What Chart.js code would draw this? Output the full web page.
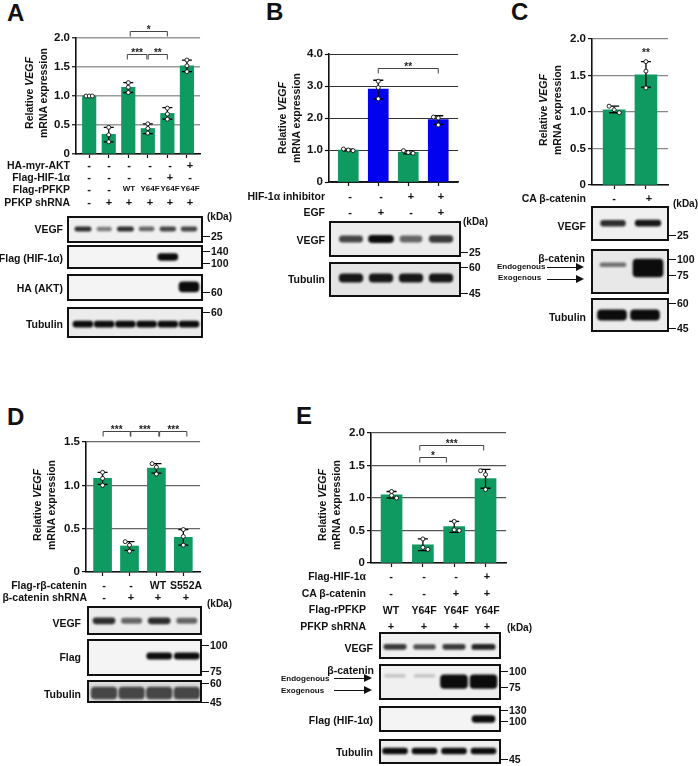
<!DOCTYPE html>
<html>
<head>
<meta charset="utf-8">
<title>VEGF mRNA expression</title>
<script src="https://cdn.jsdelivr.net/npm/chart.js@4"></script>
<style>
	html, body { margin: 0; background: #fff; }
	body { position: relative; width: 698px; height: 766px; overflow: hidden; font-family: "Liberation Sans", Arial, sans-serif; color: #111; }
	canvas { position: absolute; }
	.t { position: absolute; white-space: nowrap; font-weight: bold; line-height: 1; }
	.d { position: absolute; background: #111; }
</style>
</head>
<body>
<script>
// bar values
const aValues = [1.0, 0.34, 1.15, 0.44, 0.7, 1.52];
const bValues = [1.0, 2.9, 0.93, 1.95];
const cValues = [1.03, 1.51];
const dValues = [1.08, 0.3, 1.2, 0.4];
const eValues = [1.05, 0.28, 0.56, 1.3];

// error bars
const aLow = [1.0, 0.21, 1.06, 0.35, 0.6, 1.42];
const aHigh = [1.0, 0.46, 1.23, 0.52, 0.8, 1.62];
const bLow = [0.97, 2.6, 0.88, 1.8];
const bHigh = [1.03, 3.18, 0.98, 2.07];
const cLow = [0.99, 1.34];
const cHigh = [1.08, 1.69];
const dLow = [1.01, 0.25, 1.14, 0.31];
const dHigh = [1.15, 0.35, 1.25, 0.49];
const eLow = [1.0, 0.19, 0.47, 1.15];
const eHigh = [1.1, 0.37, 0.64, 1.44];

// replicate points
const aDots = [[1.0, 1.0, 1.0], [0.46, 0.33, 0.21], [1.23, 1.15, 1.06], [0.52, 0.44, 0.36], [0.79, 0.69, 0.6], [1.62, 1.52, 1.42]];
const bDots = [[1.03, 1.0, 0.98], [3.15, 2.95, 2.6], [0.98, 0.92, 0.9], [2.03, 2.0, 1.78]];
const cDots = [[1.08, 1.03, 0.99], [1.69, 1.56, 1.33]];
const dDots = [[1.15, 1.08, 1.0], [0.35, 0.31, 0.24], [1.25, 1.21, 1.13], [0.49, 0.41, 0.31]];
const eDots = [[1.1, 1.04, 1.0], [0.37, 0.24, 0.21], [0.64, 0.51, 0.5], [1.42, 1.36, 1.13]];

// significance brackets: from, to, value, stars
const aBrackets = [[2.1, 4, 2.12, '*'], [1.95, 2.95, 1.72, '***'], [3.02, 4, 1.72, '**']];
const bBrackets = [[1, 3, 3.56, '**']];
const cBrackets = [[1, 1, 1.8, '**']];
const dBrackets = [[0.02, 1.03, 1.63, '***'], [1.05, 2.09, 1.63, '***'], [2.12, 3.13, 1.63, '***']];
const eBrackets = [[0.9, 1.75, 1.63, '*'], [0.9, 2.94, 1.82, '***']];

// treatment rows
const aAkt = ['-', '-', '-', '-', '-', '+'];
const aHif = ['-', '-', '-', '-', '+', '-'];
const aPfkp = ['-', '-', 'WT', 'Y64F', 'Y64F', 'Y64F'];
const aShrna = ['-', '+', '+', '+', '+', '+'];
const bInhibitor = ['-', '-', '+', '+'];
const bEgf = ['-', '+', '-', '+'];
const cCatenin = ['-', '+'];
const dFlag = ['-', '-', 'WT', 'S552A'];
const dShrna = ['-', '+', '+', '+'];
const eHif = ['-', '-', '-', '+'];
const eCatenin = ['-', '-', '+', '+'];
const ePfkp = ['WT', 'Y64F', 'Y64F', 'Y64F'];
const eShrna = ['+', '+', '+', '+'];

// blot band density per lane
const aVegfBands = [0.85, 0.5, 0.85, 0.6, 0.75, 0.75];
const aFlagBands = [0, 0, 0, 0, 1, 0];
const aHaBands = [0, 0, 0, 0, 0, 1];
const aTubBands = [1, 1, 1, 1, 1, 1];
const bVegfBands = [0.75, 1, 0.6, 0.8];
const bTubBands = [0.95, 0.95, 0.95, 0.95];
const cVegfBands = [0.85, 0.95];
const cEndoBands = [0.55, 0];
const cExoBands = [0, 1];
const cTubBands = [1, 1];
const dVegfBands = [0.85, 0.6, 0.85, 0.6];
const dFlagBands = [0, 0, 1, 1];
const dTubBands = [0.72, 0.72, 0.72, 0.72];
const eVegfBands = [0.8, 0.7, 0.8, 0.9];
const eEndoBands = [0.2, 0.2, 0, 0];
const eExoBands = [0, 0, 1, 1];
const eFlagBands = [0, 0, 0, 1];
const eTubBands = [1, 1, 1, 1];

const GREEN = '#0f9a62';
const BLUE = '#0202ee';

function txt(x, y, s, align, size, weight) {
	const el = document.createElement('span');
	el.className = 't';
	el.innerHTML = s;
	el.style.left = x + 'px';
	el.style.top = y + 'px';
	el.style.fontSize = (size || 10.5) + 'px';
	if (weight) el.style.fontWeight = weight;
	const dx = align === 'r' ? '-100%' : align === 'c' ? '-50%' : '0';
	el.style.transform = 'translate(' + dx + ',-50%)';
	document.body.appendChild(el);
	return el;
}

function yTitle(x, y) {
	const el = txt(x, y, 'Relative <i>VEGF</i><br>mRNA expression', 'c', 10.5);
	el.style.textAlign = 'center';
	el.style.lineHeight = '14px';
	el.style.transform = 'translate(-50%,-50%) rotate(-90deg)';
}

function box(x, y, w, h) {
	const el = document.createElement('div');
	el.className = 'd';
	el.style.left = x + 'px';
	el.style.top = y + 'px';
	el.style.width = w + 'px';
	el.style.height = h + 'px';
	document.body.appendChild(el);
	return el;
}

// size marker right of a blot
function kda(x, y, label) {
	box(x, y - 0.5, 7, 1.5);
	txt(x + 8, y, label, 'l', 10.5);
}

function arrow(x0, x1, y) {
	box(x0, y - 0.5, x1 - x0 - 7, 1);
	const head = box(x1 - 8, y - 4, 0, 0);
	head.style.background = 'none';
	head.style.borderLeft = '8px solid #111';
	head.style.borderTop = '4px solid transparent';
	head.style.borderBottom = '4px solid transparent';
}

function rows(xs, y, values, size) {
	values.forEach((v, i) => txt(xs[i], y, v, 'c', v === '-' || v === '+' ? 11 : (size || 10.5)));
}

function marksPlugin(low, high, brackets) {
	return {
		id: 'marks',
		beforeDatasetDraw(chart, args) {
			if (args.index !== 1) return;
			const ctx = chart.ctx;
			const xs = chart.scales.x, ys = chart.scales.y;
			ctx.save();
			ctx.strokeStyle = '#000';
			ctx.lineWidth = 1.3;
			low.forEach((l, i) => {
				const x = xs.getPixelForValue(i);
				const a = ys.getPixelForValue(l), b = ys.getPixelForValue(high[i]);
				ctx.beginPath();
				ctx.moveTo(x, a);
				ctx.lineTo(x, b);
				ctx.moveTo(x - 5, a);
				ctx.lineTo(x + 5, a);
				ctx.moveTo(x - 5, b);
				ctx.lineTo(x + 5, b);
				ctx.stroke();
			});
			ctx.restore();
		},
		afterDraw(chart) {
			const ctx = chart.ctx;
			const xs = chart.scales.x, ys = chart.scales.y;
			ctx.save();
			ctx.strokeStyle = '#444';
			ctx.fillStyle = '#222';
			ctx.lineWidth = 1;
			ctx.font = 'bold 10px "Liberation Sans"';
			ctx.textAlign = 'center';
			brackets.forEach(b => {
				const x0 = xs.getPixelForValue(b[0]), x1 = xs.getPixelForValue(b[1]);
				const y = Math.round(ys.getPixelForValue(b[2])) + 0.5;
				if (b[0] !== b[1]) {
					ctx.beginPath();
					ctx.moveTo(x0, y + 5);
					ctx.lineTo(x0, y);
					ctx.lineTo(x1, y);
					ctx.lineTo(x1, y + 5);
					ctx.stroke();
				}
				ctx.fillText(b[3], (x0 + x1) / 2, y + 1);
			});
			ctx.restore();
		}
	};
}

// plot: left, right, top, bottom of the plot area in the page
function barPanel(plot, first, step, barWidth, values, colors, dots, low, high, brackets, top, gridColor, gridWidth) {
	const mLeft = 40, mTop = 36, mRight = 2, mBottom = 14;
	const canvas = document.createElement('canvas');
	const w = plot.right - plot.left + mLeft + mRight;
	const h = plot.bottom - plot.top + mTop + mBottom;
	canvas.width = w;
	canvas.height = h;
	canvas.style.left = (plot.left - mLeft) + 'px';
	canvas.style.top = (plot.top - mTop) + 'px';
	canvas.style.width = w + 'px';
	canvas.style.height = h + 'px';
	document.body.appendChild(canvas);

	const points = [];
	dots.forEach((set, i) => set.forEach((v, j) => {
		const tied = set.some((o, k) => k !== j && Math.abs(o - v) < top * 0.03);
		points.push({ x: i + (tied ? (j - 1) * 0.16 : 0), y: v });
	}));

	new Chart(canvas, {
		type: 'bar',
		data: {
			datasets: [
				{
					data: values.map((v, i) => ({ x: i, y: v })),
					backgroundColor: colors,
					barThickness: barWidth,
					order: 2
				},
				{
					type: 'scatter',
					data: points,
					backgroundColor: '#fff',
					borderColor: '#111',
					borderWidth: 0.9,
					pointRadius: 2,
					order: 1
				}
			]
		},
		options: {
			responsive: false,
			animation: false,
			layout: { padding: { left: 0, top: mTop, right: mRight, bottom: 0 } },
			plugins: { legend: { display: false }, tooltip: { enabled: false } },
			scales: {
				x: {
					type: 'linear',
					offset: false,
					min: (plot.left - first) / step,
					max: (plot.right - first) / step,
					afterFit: s => { s.height = mBottom; },
					ticks: { stepSize: 1, includeBounds: false, autoSkip: false, display: false },
					grid: { offset: false, drawOnChartArea: false, tickColor: '#111', tickLength: 4, tickWidth: 1.2 },
					border: { color: '#111', width: 1.6 }
				},
				y: {
					min: 0,
					max: top,
					afterFit: s => { s.width = mLeft; },
					ticks: {
						stepSize: top / 4 === 1 ? 1 : 0.5,
						padding: 2,
						color: '#111',
						font: { family: '"Liberation Sans"', size: 11.5, weight: 'bold' },
						callback: v => v === 0 ? '0' : v.toFixed(1)
					},
					grid: { color: gridColor, lineWidth: gridWidth, tickColor: '#111', tickLength: 4, tickWidth: 1.2 },
					border: { color: '#111', width: 1.6 }
				}
			}
		},
		plugins: [marksPlugin(low, high, brackets)]
	});
}

const blotPlugin = {
	id: 'blot',
	beforeDatasetsDraw(chart) {
		const ctx = chart.ctx;
		ctx.save();
		ctx.fillStyle = chart.canvas.dataset.shade;
		ctx.fillRect(0, 0, chart.width, chart.height);
		ctx.filter = 'blur(1.3px)';
	},
	afterDatasetsDraw(chart) {
		const ctx = chart.ctx;
		ctx.restore();
		ctx.strokeStyle = '#111';
		ctx.lineWidth = 2;
		ctx.strokeRect(1, 1, chart.width - 2, chart.height - 2);
	}
};

// bands: list of [density array, centre in percent of the panel, thickness in percent]
function blot(x0, x1, y0, y1, first, step, bandWidth, shade, bands) {
	const canvas = document.createElement('canvas');
	const w = x1 - x0, h = y1 - y0;
	canvas.width = w;
	canvas.height = h;
	canvas.style.left = x0 + 'px';
	canvas.style.top = y0 + 'px';
	canvas.style.width = w + 'px';
	canvas.style.height = h + 'px';
	canvas.dataset.shade = shade;
	document.body.appendChild(canvas);

	const datasets = [];
	bands.forEach(b => {
		b[0].forEach((density, lane) => {
			if (!density) return;
			const half = b[2] * (0.7 + 0.4 * density) / 2;
			datasets.push({
				data: [{ x: lane, y: [b[1] - half, b[1] + half] }],
				backgroundColor: 'rgba(12,12,12,' + density + ')',
				barThickness: bandWidth * (0.7 + 0.3 * density),
				borderRadius: 4,
				borderSkipped: false,
				grouped: false
			});
		});
	});

	new Chart(canvas, {
		type: 'bar',
		data: { datasets: datasets },
		options: {
			responsive: false,
			animation: false,
			plugins: { legend: { display: false }, tooltip: { enabled: false } },
			scales: {
				x: { type: 'linear', offset: false, display: false, min: (x0 - first) / step, max: (x1 - first) / step },
				y: { display: false, reverse: true, min: 0, max: 100 }
			}
		},
		plugins: [blotPlugin]
	});
}

// panel letters
txt(7, 13, 'A', 'l', 24);
txt(266, 12, 'B', 'l', 24);
txt(511, 12, 'C', 'l', 24);
txt(7, 417, 'D', 'l', 24);
txt(296, 416, 'E', 'l', 24);

// panel A
barPanel({ left: 76, right: 203, top: 38, bottom: 154 }, 89.5, 20, 13.5, aValues, GREEN, aDots, aLow, aHigh, aBrackets, 2, '#9a9a9a', 1.5);
yTitle(36, 93);
const aCols = [89, 109, 129, 150, 170, 190];
txt(70, 165, 'HA-myr-AKT', 'r');
txt(70, 177, 'Flag-HIF-1α', 'r');
txt(70, 189, 'Flag-rPFKP', 'r');
txt(70, 202, 'PFKP shRNA', 'r');
rows(aCols, 165, aAkt);
rows(aCols, 177, aHif);
rows(aCols, 189, aPfkp, 8);
rows(aCols, 202, aShrna);
txt(207, 217, '(kDa)', 'l', 10);
blot(67, 203, 216, 243, 83, 21.2, 17, '#f0f0f0', [[aVegfBands, 48, 16]]);
blot(67, 203, 245, 269, 83, 21.2, 20, '#f4f4f4', [[aFlagBands, 50, 25]]);
blot(67, 203, 274, 301, 83, 21.2, 20, '#f4f4f4', [[aHaBands, 48, 34]]);
blot(67, 203, 307, 338, 83, 21.2, 20, '#ececec', [[aTubBands, 55, 18]]);
txt(63, 229, 'VEGF', 'r');
txt(63, 258, 'Flag (HIF-1α)', 'r');
txt(63, 288, 'HA (AKT)', 'r');
txt(63, 324, 'Tubulin', 'r');
kda(203, 236, '25');
kda(203, 251, '140');
kda(203, 263, '100');
kda(203, 292, '60');
kda(203, 312, '60');

// panel B
barPanel({ left: 329, right: 461, top: 54, bottom: 182 }, 348.7, 30.67, 20, bValues, [GREEN, BLUE, GREEN, BLUE], bDots, bLow, bHigh, bBrackets, 4, '#333', 1);
yTitle(289, 118);
const bCols = [350, 381, 411, 441];
txt(325, 196, 'HIF-1α inhibitor', 'r');
txt(325, 212, 'EGF', 'r');
rows(bCols, 196, bInhibitor);
rows(bCols, 212, bEgf);
txt(463, 222, '(kDa)', 'l', 10);
blot(329, 461, 221, 257, 351, 30, 25, '#ececec', [[bVegfBands, 50, 18]]);
blot(329, 461, 262, 297, 351, 30, 24, '#e4e4e4', [[bTubBands, 46, 22]]);
txt(325, 240, 'VEGF', 'r');
txt(325, 279, 'Tubulin', 'r');
kda(461, 252, '25');
kda(461, 267, '60');
kda(461, 293, '45');

// panel C
barPanel({ left: 592, right: 671, top: 39, bottom: 185 }, 615, 33, 22, cValues, GREEN, cDots, cLow, cHigh, cBrackets, 2, '#888', 1.2);
yTitle(550, 110);
txt(586, 198, 'CA β-catenin', 'r');
rows([614, 649], 198, cCatenin);
txt(673, 204, '(kDa)', 'l', 10);
blot(591, 669, 206, 241, 613, 35, 26, '#f0f0f0', [[cVegfBands, 49, 16]]);
blot(591, 669, 249, 294, 613, 35, 30, '#e8e8e8', [[cEndoBands, 35, 9], [cExoBands, 42, 36]]);
blot(591, 669, 298, 332, 612, 33, 29, '#ececec', [[cTubBands, 50, 28]]);
txt(586, 226, 'VEGF', 'r');
txt(585, 258, 'β-catenin', 'r');
txt(497, 267, 'Endogenous', 'l', 8);
txt(498, 278, 'Exogenous', 'l', 8);
arrow(547, 584, 267);
arrow(547, 584, 279);
txt(586, 317, 'Tubulin', 'r');
kda(669, 235, '25');
kda(669, 259, '100');
kda(669, 275, '75');
kda(669, 303, '60');
kda(669, 328, '45');

// panel D
barPanel({ left: 86, right: 203, top: 442, bottom: 572 }, 103, 27.6, 18, dValues, GREEN, dDots, dLow, dHigh, dBrackets, 1.5, '#666', 1.2);
yTitle(44, 505);
const dCols = [104, 131, 158, 186];
txt(87, 585, 'Flag-rβ-catenin', 'r');
txt(87, 597, 'β-catenin shRNA', 'r');
rows(dCols, 585, dFlag);
rows(dCols, 597, dShrna);
txt(207, 604, '(kDa)', 'l', 10);
blot(87, 202, 606, 635, 104, 27.6, 23, '#ececec', [[dVegfBands, 51, 20]]);
blot(87, 202, 639, 676, 104, 27.6, 25, '#f4f4f4', [[dFlagBands, 46, 16]]);
blot(87, 202, 680, 703, 104, 27.6, 28, '#dcdcdc', [[dTubBands, 57, 52]]);
txt(81, 623, 'VEGF', 'r');
txt(81, 657, 'Flag', 'r');
txt(81, 694, 'Tubulin', 'r');
kda(202, 645, '100');
kda(202, 671, '75');
kda(202, 683, '60');
kda(202, 702, '45');

// panel E
barPanel({ left: 371, right: 509, top: 433, bottom: 563 }, 392, 32, 21, eValues, GREEN, eDots, eLow, eHigh, eBrackets, 2, '#555', 1.2);
yTitle(329, 505);
const eCols = [391, 424, 456, 487];
txt(366, 576, 'Flag-HIF-1α', 'r');
txt(366, 593, 'CA β-catenin', 'r');
txt(366, 609, 'Flag-rPFKP', 'r');
txt(366, 626, 'PFKP shRNA', 'r');
rows(eCols, 576, eHif);
rows(eCols, 593, eCatenin);
rows(eCols, 610, ePfkp);
rows(eCols, 626, eShrna);
txt(507, 628, '(kDa)', 'l', 10);
blot(379, 501, 632, 659, 395, 29.5, 24, '#f0f0f0', [[eVegfBands, 55, 18]]);
blot(379, 501, 664, 700, 395, 29.5, 27, '#f0f0f0', [[eEndoBands, 33, 9], [eExoBands, 49, 34]]);
blot(379, 501, 706, 732, 395, 29.5, 23, '#f4f4f4', [[eFlagBands, 50, 24]]);
blot(379, 501, 739, 764, 395, 29.5, 25, '#eeeeee', [[eTubBands, 48, 22]]);
txt(373, 648, 'VEGF', 'r');
txt(374, 670, 'β-catenin', 'r');
txt(281, 679, 'Endogenous', 'l', 8);
txt(281, 691, 'Exogenous', 'l', 8);
arrow(334, 372, 678);
arrow(334, 372, 690);
txt(373, 720, 'Flag (HIF-1α)', 'r');
txt(373, 752, 'Tubulin', 'r');
kda(501, 671, '100');
kda(501, 687, '75');
kda(501, 710, '130');
kda(501, 721, '100');
kda(501, 759, '45');
</script>
</body>
</html>
